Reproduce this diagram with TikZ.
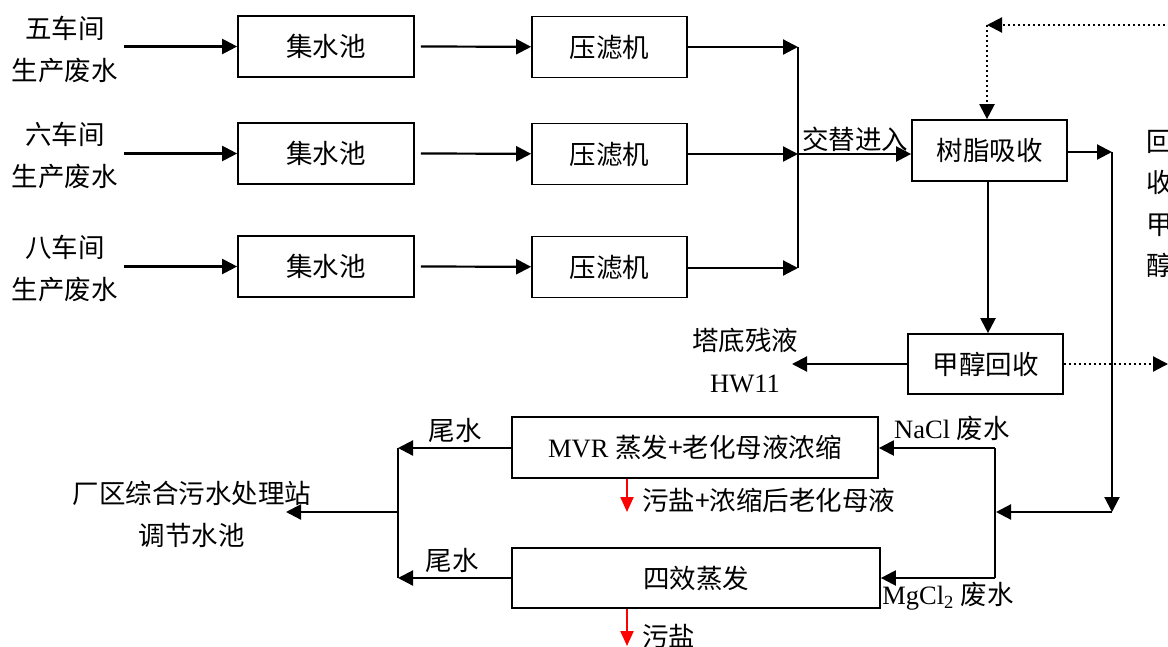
\documentclass[tikz,border=0pt]{standalone}
\usepackage{fontspec}
\setmainfont{Liberation Serif}
\newfontfamily\cjk{Noto Sans CJK SC}
\usetikzlibrary{arrows.meta}
\begin{document}
\begin{tikzpicture}[x=1pt,y=-1pt,
  every node/.style={font=\fontsize{26.5}{42}\selectfont, inner sep=2pt},
  box/.style={draw, line width=1.7pt, minimum height=61pt, inner sep=0pt},
  arr/.style={-{Triangle[length=15pt,width=15pt]}, line width=2.2pt},
  plain/.style={line width=2.2pt},
  dotline/.style={line width=2.2pt, dash pattern=on 2pt off 3pt},
  redarr/.style={-{Triangle[length=15pt,width=13pt]}, line width=2.2pt, red},
  lbl/.style={align=center}]
\useasboundingbox (0,0) rectangle (1168,646);

% sources
\node[lbl] (s1) at (65,49) {\cjk 五车间\\\cjk 生产废水};
\node[lbl] (s2) at (65,155) {\cjk 六车间\\\cjk 生产废水};
\node[lbl] (s3) at (65,268) {\cjk 八车间\\\cjk 生产废水};

\node[box, minimum width=176pt] (a1) at (326,46.5) {\cjk 集水池};
\node[box, minimum width=176pt] (a2) at (326,153.5) {\cjk 集水池};
\node[box, minimum width=176pt] (a3) at (326,266.5) {\cjk 集水池};

\node[box, minimum width=155pt] (p1) at (609.5,47) {\cjk 压滤机};
\node[box, minimum width=155pt] (p2) at (609.5,154) {\cjk 压滤机};
\node[box, minimum width=155pt] (p3) at (609.5,267) {\cjk 压滤机};

\node[box, minimum width=155pt] (resin) at (989.5,150.5) {\cjk 树脂吸收};
\node[box, minimum width=155pt, minimum height=60pt] (meth) at (985.5,364) {\cjk 甲醇回收};

\node[box, minimum width=366pt] (mvr) at (695,447.5) {MVR {\cjk 蒸发+老化母液浓缩}};
\node[box, minimum width=368pt, minimum height=60pt] (four) at (696,578) {\cjk 四效蒸发};

% labels
\node (alt) at (855,139) {\cjk 交替进入};
\node[lbl] (hw) at (745,361) {\cjk 塔底残液\\HW11};
\node[lbl] (dest) at (192,514) {\cjk 厂区综合污水处理站\\\cjk 调节水池};
\node (t1) at (455,430) {\cjk 尾水};
\node (t2) at (452,560) {\cjk 尾水};
\node (nacl) at (952,428) {NaCl {\cjk 废水}};
\node (mgcl) at (948,596) {MgCl\textsubscript{2} {\cjk 废水}};
\node[anchor=west] (salt1) at (640,500) {\cjk 污盐+浓缩后老化母液};
\node[anchor=west] (salt2) at (640,636) {\cjk 污盐};
\node[align=center, font=\fontsize{26.5}{41.5}\selectfont] (rm) at (1160,204) {\cjk 回\\\cjk 收\\\cjk 甲\\\cjk 醇};

% coordinates
\coordinate (j1) at (798,47);
\coordinate (jm) at (798,154);
\coordinate (j3) at (798,268);
\coordinate (dtop) at (1175,25);
\coordinate (dc) at (987,25);
\coordinate (r1) at (1112,152);
\coordinate (r2) at (1112,512);
\coordinate (jv) at (996,512);
\coordinate (jn) at (995,448);
\coordinate (jg) at (995,578);
\coordinate (w1) at (398,448);
\coordinate (w2) at (398,578);
\coordinate (wm) at (398,512);
\coordinate (dst) at (286,512);
\coordinate (mout) at (1168,364);
\coordinate (hwend) at (792,364);
\coordinate (rs1) at (627,512);
\coordinate (rs2) at (627,646);

% inputs
\draw[arr] (s1.east |- a1) ++(4,0) -- (a1);
\draw[arr] (s2.east |- a2) ++(4,0) -- (a2);
\draw[arr] (s3.east |- a3) ++(4,0) -- (a3);
\draw[arr] ([xshift=6pt]a1.east) -- (p1);
\draw[arr] ([xshift=6pt]a2.east) -- (p2);
\draw[arr] ([xshift=6pt]a3.east) -- (p3);
\draw[arr] (p1.east |- j1) -- (j1);
\draw[arr] (p2.east |- jm) -- (jm);
\draw[arr] (p3.east |- j3) -- (j3);
\draw[plain] (j1) -- (j3);
\draw[arr] (jm) -- (resin.west |- jm);

% recycle dotted
\draw[dotline, arr] (dtop) -- (dc);
\draw[dotline, arr] (dc) -- (dc |- resin.north);

% resin outputs
\draw[arr] (resin.east |- r1) -- (r1);
\draw[arr] (r1) -- (r2);
\draw[arr] (r2) -- (jv);
\draw[plain] (jn) -- (jg);
\draw[arr] (jn) -- (mvr.east |- jn);
\draw[arr] (jg) -- (four.east |- jg);
\draw[arr] (resin.south -| 988,0) -- (meth.north -| 988,0);
\draw[arr] (meth.west) -- (hwend);
\draw[dotline, arr] (meth.east) -- (mout);

% tail water
\draw[arr] (mvr.west |- w1) -- (w1);
\draw[arr] (four.west |- w2) -- (w2);
\draw[plain] (w1) -- (w2);
\draw[arr] (wm) -- (dst);

% red salt arrows
\draw[redarr] (mvr.south -| rs1) -- (rs1);
\draw[redarr] (four.south -| rs2) -- (rs2);
\end{tikzpicture}
\end{document}
